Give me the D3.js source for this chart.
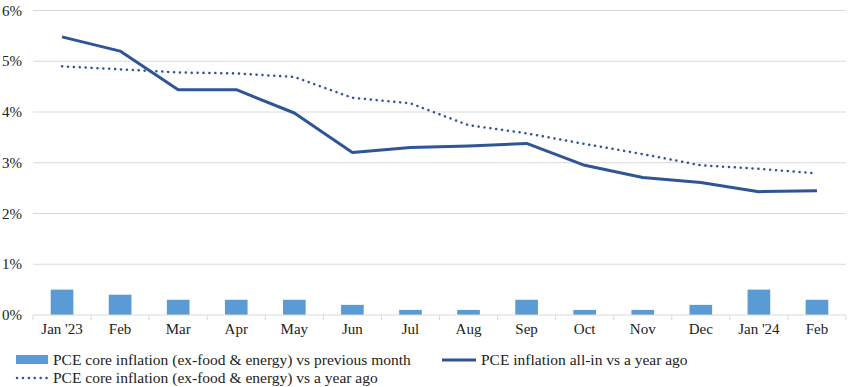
<!DOCTYPE html>
<html>
<head>
<meta charset="utf-8">
<script src="https://cdn.jsdelivr.net/npm/d3@7"></script>
<style>
  body { margin: 0; background: #fff; }
  svg text { font-family: "Liberation Serif", "DejaVu Serif", serif; fill: #222; }
</style>
</head>
<body>
<svg id="chart" width="848" height="387"></svg>
<script>
// categorias y series
const months = ["Jan '23", "Feb", "Mar", "Apr", "May", "Jun", "Jul", "Aug", "Sep", "Oct", "Nov", "Dec", "Jan '24", "Feb"];
const coreMoM = [0.5, 0.4, 0.3, 0.3, 0.3, 0.2, 0.1, 0.1, 0.3, 0.1, 0.1, 0.2, 0.5, 0.3];
const allInYoY = [5.48, 5.2, 4.44, 4.44, 3.98, 3.2, 3.3, 3.33, 3.38, 2.95, 2.71, 2.61, 2.43, 2.45];
const coreYoY = [4.9, 4.84, 4.78, 4.76, 4.69, 4.28, 4.17, 3.74, 3.58, 3.37, 3.17, 2.95, 2.88, 2.79];
const yTicks = [0, 1, 2, 3, 4, 5, 6];

const svg = d3.select("#chart");
const margin = { left: 33, right: 2, top: 10.5, bottom: 72 };
const width = 848 - margin.left - margin.right;
const height = 387 - margin.top - margin.bottom;

const g = svg.append("g").attr("transform", `translate(${margin.left},${margin.top})`);

const x = d3.scaleBand().domain(d3.range(months.length)).range([0, width]);
const y = d3.scaleLinear().domain([0, 6]).range([height, 0]);

// lineas de cuadricula
g.selectAll("line.grid")
    .data(yTicks.filter(d => d > 0))
    .enter().append("line")
    .attr("class", "grid")
    .attr("x1", 0).attr("x2", width)
    .attr("y1", d => y(d)).attr("y2", d => y(d))
    .style("stroke", "#d9d9d9").style("stroke-width", 1);

// etiquetas del eje y
g.selectAll("text.ylab")
    .data(yTicks)
    .enter().append("text")
    .attr("class", "ylab")
    .attr("x", -11).attr("y", d => y(d) + 5)
    .attr("text-anchor", "end")
    .style("font-size", "15px")
    .text(d => d + "%");

// barras
const barW = x.bandwidth() * 0.39;
g.selectAll("rect.bar")
    .data(coreMoM)
    .enter().append("rect")
    .attr("class", "bar")
    .attr("x", (d, i) => x(i) + (x.bandwidth() - barW) / 2)
    .attr("y", d => y(d))
    .attr("width", barW)
    .attr("height", d => height - y(d))
    .style("fill", "#5b9bd5");

// eje x
g.append("line")
    .attr("x1", 0).attr("x2", width)
    .attr("y1", height).attr("y2", height)
    .style("stroke", "#d9d9d9").style("stroke-width", 1);

g.selectAll("line.tick")
    .data(d3.range(months.length + 1))
    .enter().append("line")
    .attr("class", "tick")
    .attr("x1", i => i * x.step()).attr("x2", i => i * x.step())
    .attr("y1", height).attr("y2", height + 5)
    .style("stroke", "#d9d9d9");

g.selectAll("text.xlab")
    .data(months)
    .enter().append("text")
    .attr("class", "xlab")
    .attr("x", (d, i) => x(i) + x.bandwidth() / 2)
    .attr("y", height + 19)
    .attr("text-anchor", "middle")
    .style("font-size", "15px")
    .text(d => d);

// lineas
const line = d3.line()
    .x((d, i) => x(i) + x.bandwidth() / 2)
    .y(d => y(d));

g.append("path")
    .datum(coreYoY)
    .attr("d", line)
    .style("fill", "none")
    .style("stroke", "#2f5597")
    .style("stroke-width", 2.5)
    .style("stroke-linecap", "round")
    .style("stroke-dasharray", "0.1 5.8");

g.append("path")
    .datum(allInYoY)
    .attr("d", line)
    .style("fill", "none")
    .style("stroke", "#2f5597")
    .style("stroke-width", 3)
    .style("stroke-linejoin", "round");

// leyenda
const legend = svg.append("g");
legend.append("rect")
    .attr("x", 16).attr("y", 355).attr("width", 32).attr("height", 9)
    .style("fill", "#5b9bd5");
legend.append("text")
    .attr("x", 53).attr("y", 365)
    .style("font-size", "15.5px")
    .text("PCE core inflation (ex-food & energy) vs previous month");

legend.append("line")
    .attr("x1", 442).attr("x2", 476).attr("y1", 360).attr("y2", 360)
    .style("stroke", "#2f5597").style("stroke-width", 3);
legend.append("text")
    .attr("x", 481).attr("y", 365)
    .style("font-size", "15.5px")
    .text("PCE inflation all-in vs a year ago");

legend.append("line")
    .attr("x1", 17).attr("x2", 48).attr("y1", 378).attr("y2", 378)
    .style("stroke", "#2f5597").style("stroke-width", 2.5)
    .style("stroke-linecap", "round")
    .style("stroke-dasharray", "0.1 5.8");
legend.append("text")
    .attr("x", 53).attr("y", 383)
    .style("font-size", "15.5px")
    .text("PCE core inflation (ex-food & energy) vs a year ago");
</script>
</body>
</html>
